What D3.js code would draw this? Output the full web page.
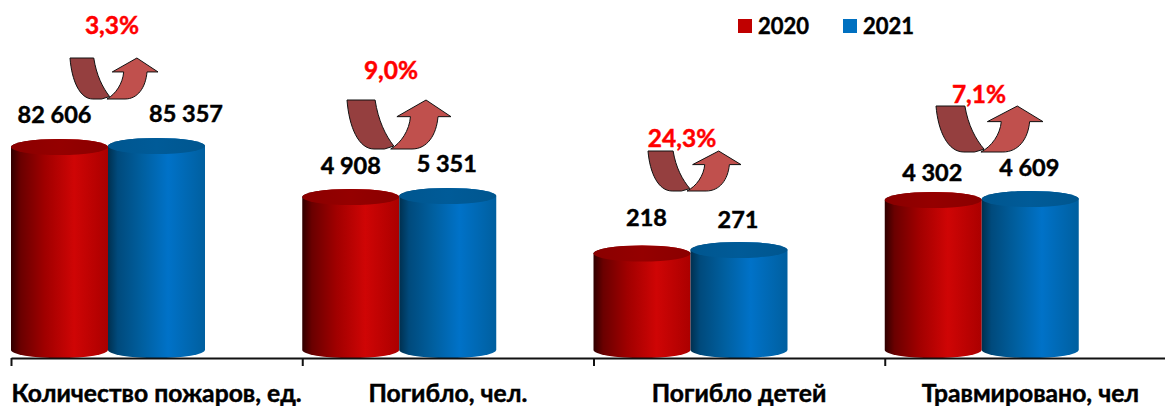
<!DOCTYPE html>
<html>
<head>
<meta charset="utf-8">
<script src="https://cdn.jsdelivr.net/npm/d3@7"></script>
<style>
html, body { margin: 0; padding: 0; background: #fff; }
svg { display: block; }
text { font-family: Lato, "Open Sans", sans-serif; font-weight: 700; fill: #000; stroke: #000; stroke-width: 0.45px; }
</style>
</head>
<body>
<svg width="1165" height="406"></svg>
<script>
"use strict";

var categories = ["Количество пожаров, ед.", "Погибло, чел.", "Погибло детей", "Травмировано, чел"];
var years = ["2020", "2021"];
var values2020 = [82606, 4908, 218, 4302];
var values2021 = [85357, 5351, 271, 4609];
var changePct = [3.3, 9.0, 24.3, 7.1];

// the source chart draws the four measures on a squashed non linear axis
var axisKnots = [218, 271, 4302, 4609, 4908, 5351, 82606, 85357];
var axisKnotY = [253.5, 250, 200, 199, 197, 196, 147, 146];

// hand placed labels, offset from the top of each cylinder
var labelOffset2020 = [[-5, -33], [0, -32], [4.5, -36.5], [-1, -28]];
var labelOffset2021 = [[29.5, -33], [-1, -33], [-1, -31], [-1, -32]];

// hand placed arrows [x0, y0, x1, y1] and their percent labels [x, y]
var arrowBoxes = [[70, 58, 158, 99], [347, 100, 451, 149], [648, 151, 741, 191], [936, 106, 1043, 152]];
var pctLabels = [[112, 24], [391, 69], [682, 137], [979, 93]];

var svg = d3.select("svg");
var baseY = 350, axisY = 358, capRy = 8;
var ru = d3.formatLocale({ decimal: ",", thousands: " ", grouping: [3], currency: ["", ""] });
var fmtValue = ru.format(",d"), fmtPct = ru.format(".1f");

var tickX = d3.scaleLinear().domain([0, categories.length]).range([11, 1176]);
var x0 = d3.scaleBand().domain(categories).range([11, 1176]);
var x1 = d3.scaleBand().domain(years).range([0, 194]);
var y = d3.scaleLog().domain(axisKnots).range(axisKnotY);

var defs = svg.append("defs");
function add_gradient(id, stops) {
  var g = defs.append("linearGradient").attr("id", id).attr("x1", "0%").attr("x2", "100%");
  g.selectAll("stop").data(stops).enter().append("stop")
    .attr("offset", function(d) { return d[0]; })
    .attr("stop-color", function(d) { return d[1]; });
}
add_gradient("body2020", [[0, "#300000"], [0.1, "#6a0000"], [0.35, "#a00000"], [0.65, "#cf0505"], [1, "#ab0000"]]);
add_gradient("body2021", [[0, "#00304f"], [0.1, "#004a7c"], [0.35, "#005f9f"], [0.62, "#0072c8"], [1, "#005f9f"]]);
add_gradient("cap2020", [[0, "#8a0000"], [0.5, "#950000"], [1, "#8a0000"]]);
add_gradient("cap2021", [[0, "#00568f"], [0.5, "#005b98"], [1, "#00568f"]]);

var rows = [];
categories.forEach(function(c, i) {
  rows.push({ cat: c, year: "2020", value: values2020[i], off: labelOffset2020[i] });
  rows.push({ cat: c, year: "2021", value: values2021[i], off: labelOffset2021[i] });
});

var bars = svg.append("g").selectAll("g").data(rows).enter().append("g")
  .attr("transform", function(d) { return "translate(" + (x0(d.cat) + x1(d.year)) + ",0)"; });

bars.append("path")
  .attr("fill", function(d) { return "url(#body" + d.year + ")"; })
  .attr("d", function(d) {
    var w = x1.bandwidth(), t = y(d.value);
    return "M0," + t + "L0," + baseY + "A" + w / 2 + "," + capRy + " 0 0 0 " + w + "," + baseY +
      "L" + w + "," + t + "A" + w / 2 + "," + capRy + " 0 0 0 0," + t + "Z";
  });

bars.append("ellipse")
  .attr("cx", x1.bandwidth() / 2)
  .attr("cy", function(d) { return y(d.value); })
  .attr("rx", x1.bandwidth() / 2)
  .attr("ry", capRy)
  .attr("fill", function(d) { return "url(#cap" + d.year + ")"; });

bars.append("text")
  .attr("x", function(d) { return x1.bandwidth() / 2 + d.off[0]; })
  .attr("y", function(d) { return y(d.value) + d.off[1]; })
  .attr("text-anchor", "middle")
  .attr("dominant-baseline", "central")
  .style("font-size", "23.5px")
  .text(function(d) { return fmtValue(d.value); });

// axis: ticks sit on the category edges
var axis = svg.append("g").attr("transform", "translate(0," + axisY + ")")
  .call(d3.axisBottom(tickX).tickValues(d3.range(categories.length + 1)).tickSize(8).tickSizeOuter(0).tickFormat(""));
axis.selectAll("path, line").attr("stroke", "#111").attr("stroke-width", 2);

svg.append("g").selectAll("text").data(categories).enter().append("text")
  .attr("x", function(d) { return x0(d) + x0.bandwidth() / 2; })
  .attr("y", 392)
  .attr("text-anchor", "middle")
  .attr("dominant-baseline", "central")
  .style("font-size", "24.7px")
  .text(function(d) { return d; });

// curved arrows
function arrow_paths(b) {
  var w = b[2] - b[0], h = b[3] - b[1];
  function p(u, v) { return (b[0] + u * w) + "," + (b[1] + v * h); }
  return {
    down: "M" + p(0, 0) + "L" + p(0.27, 0) + "C" + p(0.3, 0.42) + " " + p(0.37, 0.72) + " " + p(0.45, 0.94) +
      "L" + p(0.36, 1) + "L" + p(0.26, 1) + "C" + p(0.11, 1) + " " + p(0.02, 0.55) + " " + p(0, 0) + "Z",
    up: "M" + p(0.42, 1) + "C" + p(0.52, 0.88) + " " + p(0.6, 0.62) + " " + p(0.61, 0.34) +
      "L" + p(0.48, 0.34) + "L" + p(0.76, 0) + "L" + p(1, 0.34) + "L" + p(0.875, 0.34) +
      "C" + p(0.86, 0.72) + " " + p(0.77, 1) + " " + p(0.625, 1) + "Z"
  };
}
var arrows = svg.append("g").selectAll("g").data(arrowBoxes).enter().append("g");
arrows.append("path").attr("d", function(d) { return arrow_paths(d).down; })
  .attr("fill", "#953f3f").attr("stroke", "#111").attr("stroke-width", 1);
arrows.append("path").attr("d", function(d) { return arrow_paths(d).up; })
  .attr("fill", "#c0504d").attr("stroke", "#111").attr("stroke-width", 1);

svg.append("g").selectAll("text").data(changePct).enter().append("text")
  .attr("x", function(d, i) { return pctLabels[i][0]; })
  .attr("y", function(d, i) { return pctLabels[i][1]; })
  .attr("text-anchor", "middle")
  .attr("dominant-baseline", "central")
  .style("font-size", "24.5px")
  .style("fill", "#ff0000")
  .style("stroke", "#ff0000")
  .text(function(d) { return fmtPct(d) + "%"; });

// legend
var legendX = d3.scalePoint().domain(years).range([738, 843]);
var legendColour = d3.scaleOrdinal().domain(years).range(["#c00000", "#0070c0"]);
var legend = svg.append("g").selectAll("g").data(years).enter().append("g")
  .attr("transform", function(d) { return "translate(" + legendX(d) + ",19)"; });
legend.append("rect").attr("width", 14).attr("height", 14)
  .attr("fill", function(d) { return legendColour(d); });
legend.append("text").attr("x", 20).attr("y", 6)
  .attr("dominant-baseline", "central")
  .style("font-size", "22px")
  .text(function(d) { return d; });
</script>
</body>
</html>
